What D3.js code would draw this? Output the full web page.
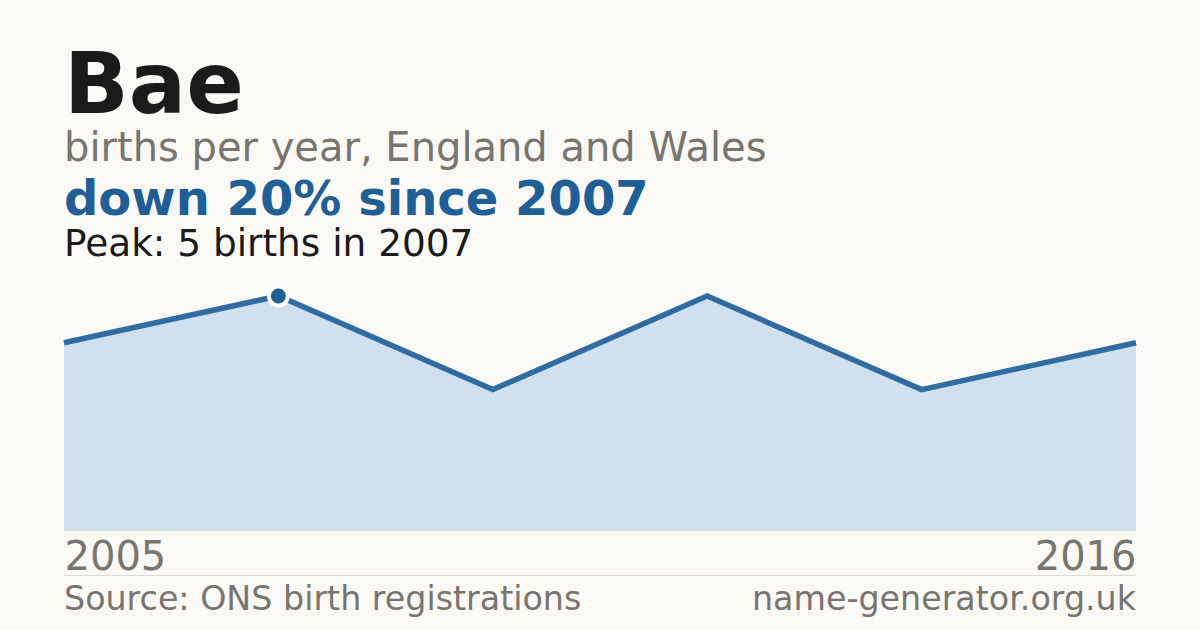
<!DOCTYPE html>
<html>
<head>
<meta charset="utf-8">
<script src="https://cdn.jsdelivr.net/npm/d3@7"></script>
<style>
  html, body { margin: 0; padding: 0; background: #faf9f5; }
  svg { display: block; font-family: "DejaVu Sans", sans-serif; }
</style>
</head>
<body>
<div id="chart"></div>
<script>
// years with recorded births (fewer than 3 are suppressed)
const years = [2005, 2007, 2009, 2011, 2014, 2016];
const births = [4, 5, 3, 5, 3, 4];
const peakYear = 2007;
const peakValue = 5;
const changePct = 20;

const width = 1200;
const height = 630;
const plotLeft = 64, plotRight = 1136;
const plotTop = 296, plotBottom = 530;

const svg = d3.select("#chart").append("svg")
    .attr("width", width)
    .attr("height", height);

svg.append("rect")
    .attr("width", width)
    .attr("height", height)
    .attr("fill", "#faf9f5");

const data = years.map((y, i) => ({ year: y, value: births[i] }));

const xScale = d3.scalePoint()
    .domain(years)
    .range([plotLeft, plotRight]);

const yScale = d3.scaleLinear()
    .domain([0, d3.max(births)])
    .range([plotBottom, plotTop]);

// header text
svg.append("text")
    .attr("x", plotLeft).attr("y", 113)
    .attr("font-size", 85).attr("font-weight", "bold")
    .attr("fill", "#1a1a1a")
    .text("Bae");

svg.append("text")
    .attr("x", plotLeft).attr("y", 161)
    .attr("font-size", 40)
    .attr("fill", "#78746e")
    .text("births per year, England and Wales");

svg.append("text")
    .attr("x", plotLeft).attr("y", 215)
    .attr("font-size", 48).attr("font-weight", "bold")
    .attr("fill", "#1f5f96")
    .text(`down ${changePct}% since ${peakYear}`);

svg.append("text")
    .attr("x", plotLeft).attr("y", 256)
    .attr("font-size", 37.4)
    .attr("fill", "#1a1a1a")
    .text(`Peak: ${peakValue} births in ${peakYear}`);

// area + line
const area = d3.area()
    .x(d => xScale(d.year))
    .y0(plotBottom)
    .y1(d => yScale(d.value));

const line = d3.line()
    .x(d => xScale(d.year))
    .y(d => yScale(d.value));

svg.append("path")
    .datum(data)
    .attr("d", area)
    .attr("fill", "#d0e0ef");

svg.append("path")
    .datum(data)
    .attr("d", line)
    .attr("fill", "none")
    .attr("stroke", "#306ba1")
    .attr("stroke-width", 5.5)
    .attr("stroke-linejoin", "miter");

// peak marker
svg.append("circle")
    .attr("cx", xScale(peakYear))
    .attr("cy", yScale(peakValue))
    .attr("r", 9.5)
    .attr("fill", "#1f5f96")
    .attr("stroke", "#faf9f5")
    .attr("stroke-width", 4);

// baseline and axis
svg.append("line")
    .attr("x1", plotLeft).attr("x2", plotRight)
    .attr("y1", plotBottom + 0.5).attr("y2", plotBottom + 0.5)
    .attr("stroke", "#e4e0d8").attr("stroke-width", 1);

const xAxis = d3.axisBottom(xScale)
    .tickValues([years[0], years[years.length - 1]])
    .tickSize(0)
    .tickFormat(d3.format("d"));

const axisG = svg.append("g")
    .attr("transform", `translate(0, ${plotBottom})`)
    .call(xAxis);
axisG.select(".domain").remove();
axisG.selectAll("text")
    .attr("font-family", "DejaVu Sans, sans-serif")
    .attr("font-size", 40)
    .attr("fill", "#78746e")
    .attr("dy", null)
    .attr("y", 40)
    .attr("text-anchor", (d, i) => i === 0 ? "start" : "end");

svg.append("line")
    .attr("x1", plotLeft).attr("x2", plotRight)
    .attr("y1", 575.5).attr("y2", 575.5)
    .attr("stroke", "#dedad2").attr("stroke-width", 1);

// footer
svg.append("text")
    .attr("x", plotLeft).attr("y", 610)
    .attr("font-size", 33.3)
    .attr("fill", "#78746e")
    .text("Source: ONS birth registrations");

svg.append("text")
    .attr("x", plotRight).attr("y", 610)
    .attr("text-anchor", "end")
    .attr("font-size", 33.3)
    .attr("fill", "#78746e")
    .text("name-generator.org.uk");
</script>
</body>
</html>
